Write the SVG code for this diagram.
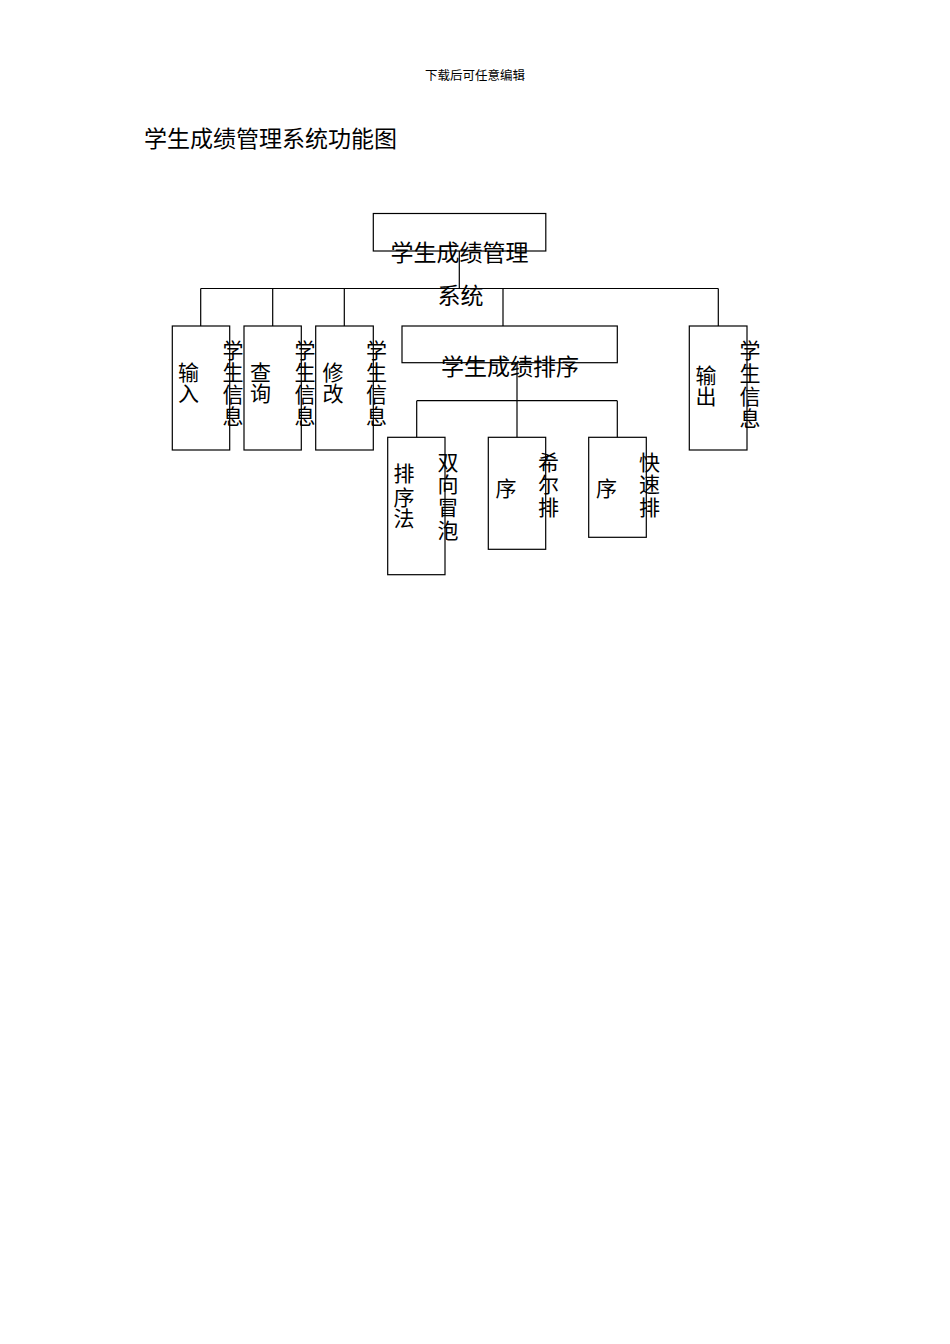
<svg xmlns="http://www.w3.org/2000/svg" width="950" height="1344" viewBox="0 0 950 1344">
<style>
text{font-family:"Noto Sans CJK SC","Noto Sans CJK JP",sans-serif;fill:#000;}
.box{fill:none;stroke:#000;stroke-width:1.2;}
.ln{fill:none;stroke:#000;stroke-width:1.2;}
.t23{font-size:23px;}
.t21{font-size:21px;}
</style>
<rect x="0" y="0" width="950" height="1344" fill="#fff"/>
<text x="425" y="80" style="font-size:12.5px">下载后可任意编辑</text>
<text x="144" y="147" class="t23">学生成绩管理系统功能图</text>
<g id="connectors">
<path class="ln" d="M459.3,251 V288.5 M200.7,288.5 H718.3 M200.7,288.5 V326 M272.7,288.5 V326 M344.3,288.5 V326 M503,288.5 V326 M718.3,288.5 V326"/>
<path class="ln" d="M517,362.7 V437.3 M416.7,400.7 H617.3 M416.7,400.7 V437.3 M617.3,400.7 V437.3"/>
</g>
<g id="root">
<rect class="box" x="373.3" y="213.5" width="172.5" height="37.5"/>
<text x="390.5" y="261.2" class="t23">学生成绩管理</text>
<text x="437.5" y="303.7" class="t23">系统</text>
</g>
<g id="input">
<rect class="box" x="172.3" y="326" width="57.4" height="124"/>
<text class="t21"><tspan x="178" y="379.7">输</tspan><tspan x="178" y="401">入</tspan></text>
<text class="t21"><tspan x="222.5" y="357.7">学</tspan><tspan x="222.5" y="379.8">生</tspan><tspan x="222.5" y="402">信</tspan><tspan x="222.5" y="424">息</tspan></text>
</g>
<g id="query">
<rect class="box" x="244" y="326" width="57.3" height="124"/>
<text class="t21"><tspan x="250" y="379.7">查</tspan><tspan x="250" y="401">询</tspan></text>
<text class="t21"><tspan x="294.5" y="357.7">学</tspan><tspan x="294.5" y="379.8">生</tspan><tspan x="294.5" y="402">信</tspan><tspan x="294.5" y="424">息</tspan></text>
</g>
<g id="modify">
<rect class="box" x="315.7" y="326" width="57.6" height="124"/>
<text class="t21"><tspan x="322.5" y="379.7">修</tspan><tspan x="322.5" y="401">改</tspan></text>
<text class="t21"><tspan x="366" y="357.7">学</tspan><tspan x="366" y="379.8">生</tspan><tspan x="366" y="402">信</tspan><tspan x="366" y="424">息</tspan></text>
</g>
<g id="sort">
<rect class="box" x="402" y="326" width="215.3" height="36.7"/>
<text x="441" y="375.4" class="t23">学生成绩排序</text>
</g>
<g id="output">
<rect class="box" x="689.3" y="326" width="57.7" height="124"/>
<text class="t21"><tspan x="695.5" y="382.7">输</tspan><tspan x="695.5" y="403.7">出</tspan></text>
<text class="t21"><tspan x="739.5" y="358">学</tspan><tspan x="739.5" y="381">生</tspan><tspan x="739.5" y="404">信</tspan><tspan x="739.5" y="426">息</tspan></text>
</g>
<g id="bubble">
<rect class="box" x="387.7" y="437.3" width="57.3" height="137.4"/>
<text class="t21"><tspan x="393.5" y="481.3">排</tspan><tspan x="393.5" y="504.7">序</tspan><tspan x="393.5" y="526">法</tspan></text>
<text class="t21"><tspan x="437.5" y="469.7">双</tspan><tspan x="437.5" y="492">向</tspan><tspan x="437.5" y="514.7">冒</tspan><tspan x="437.5" y="538">泡</tspan></text>
</g>
<g id="shell">
<rect class="box" x="488.3" y="437.3" width="57.4" height="112"/>
<text x="495.5" y="496.3" class="t21">序</text>
<text class="t21"><tspan x="538" y="469.7">希</tspan><tspan x="538" y="492">尔</tspan><tspan x="538" y="514.7">排</tspan></text>
</g>
<g id="quick">
<rect class="box" x="588.7" y="437.3" width="57.6" height="100"/>
<text x="596" y="496.3" class="t21">序</text>
<text class="t21"><tspan x="639" y="469.7">快</tspan><tspan x="639" y="492">速</tspan><tspan x="639" y="514.7">排</tspan></text>
</g>
</svg>
